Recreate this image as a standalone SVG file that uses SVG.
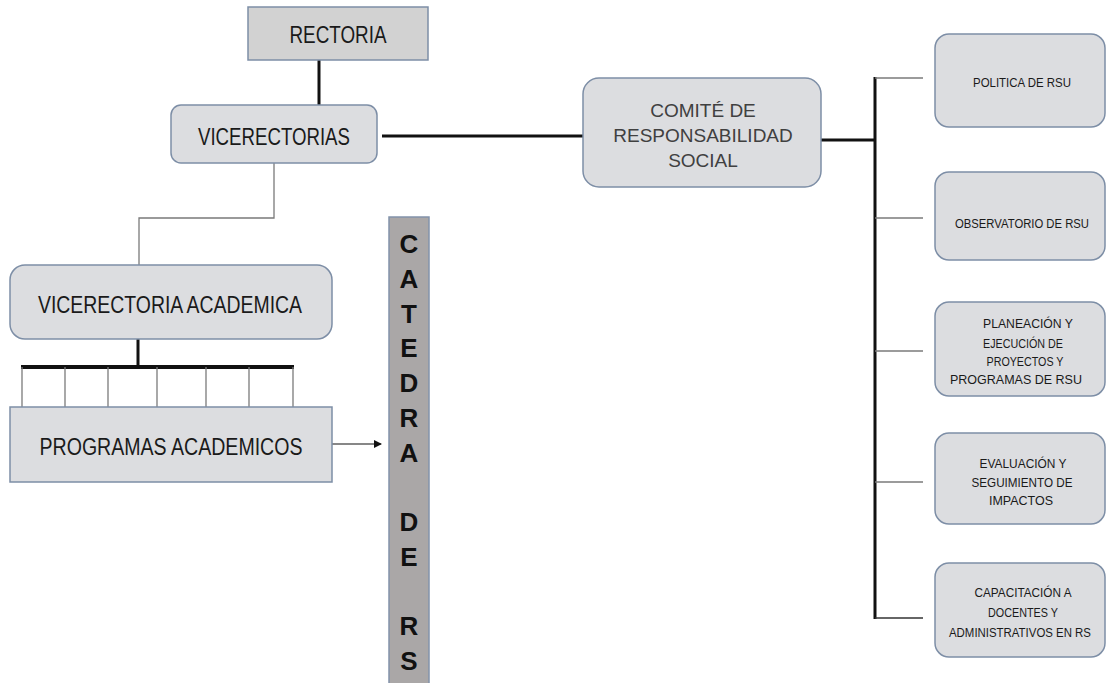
<svg xmlns="http://www.w3.org/2000/svg" width="1106" height="683" viewBox="0 0 1106 683">
<style>
.box{fill:#dcdcdc;stroke:#7d8ea6;stroke-width:1.5}
.rbox{fill:#dcdde0;stroke:#7d8ea6;stroke-width:1.5}
.cal{font-family:"Liberation Sans",Arial,sans-serif;fill:#1a1a1a;text-anchor:middle}
.big{font-size:23px}
.sm{font-size:13px}
.xs{font-size:12px}
.cat{font-family:"Liberation Sans",Arial,sans-serif;font-weight:bold;font-size:26px;fill:#111;text-anchor:middle}
.thick{stroke:#111;stroke-width:3;fill:none}
.thin{stroke:#7a7a7a;stroke-width:1.3;fill:none}
</style>
<defs>
<marker id="arr" markerWidth="8" markerHeight="8" refX="7" refY="4" orient="auto" markerUnits="userSpaceOnUse">
<path d="M0,0 L8,4 L0,8 Z" fill="#111"/>
</marker>
</defs>
<rect width="1106" height="683" fill="#ffffff"/>
<g id="connectors">
<line class="thick" x1="319" y1="60" x2="319" y2="105"/>
<line class="thick" x1="382" y1="136" x2="583" y2="136"/>
<line class="thick" x1="821" y1="140" x2="875" y2="140"/>
<line class="thick" x1="875" y1="77" x2="875" y2="619"/>
<line class="thin" x1="875" y1="78" x2="923" y2="78"/>
<line class="thin" x1="875" y1="218" x2="923" y2="218"/>
<line class="thin" x1="875" y1="351" x2="923" y2="351"/>
<line class="thin" x1="875" y1="482" x2="923" y2="482"/>
<line class="thin" x1="875" y1="618" x2="923" y2="618" style="stroke:#333"/>
<polyline class="thin" points="274,163 274,218 139,218 139,265"/>
<line class="thick" x1="138" y1="339" x2="138" y2="367"/>
<line class="thick" x1="21" y1="367" x2="294" y2="367" style="stroke-width:4"/>
<line class="thin" x1="22" y1="367" x2="22" y2="407"/>
<line class="thin" x1="65" y1="367" x2="65" y2="407"/>
<line class="thin" x1="108" y1="367" x2="108" y2="407"/>
<line class="thin" x1="157" y1="367" x2="157" y2="407"/>
<line class="thin" x1="206" y1="367" x2="206" y2="407"/>
<line class="thin" x1="249" y1="367" x2="249" y2="407"/>
<line class="thin" x1="293" y1="367" x2="293" y2="407"/>
<line x1="332" y1="444" x2="381" y2="444" stroke="#111" stroke-width="1.2" marker-end="url(#arr)"/>
</g>
<g id="rectoria">
<rect class="box" x="248" y="7" width="180" height="53" style="fill:#d2d2d2"/>
<text class="cal big" x="338" y="43" textLength="97" lengthAdjust="spacingAndGlyphs">RECTORIA</text>
</g>
<g id="vicerectorias">
<rect class="rbox" x="171" y="105" width="206" height="58" rx="10"/>
<text class="cal big" x="274" y="145" textLength="152" lengthAdjust="spacingAndGlyphs">VICERECTORIAS</text>
</g>
<g id="comite">
<rect class="rbox" x="583" y="78" width="238" height="109" rx="16"/>
<text x="703" y="117" font-family="Liberation Sans,Arial,sans-serif" font-size="19" fill="#404040" text-anchor="middle">COMITÉ  DE</text>
<text x="703" y="142" font-family="Liberation Sans,Arial,sans-serif" font-size="19" fill="#404040" text-anchor="middle">RESPONSABILIDAD</text>
<text x="703" y="167" font-family="Liberation Sans,Arial,sans-serif" font-size="19" fill="#404040" text-anchor="middle">SOCIAL</text>
</g>
<g id="vicerectoria-academica">
<rect class="rbox" x="10" y="265" width="322" height="74" rx="15"/>
<text class="cal big" x="170" y="313" textLength="264" lengthAdjust="spacingAndGlyphs">VICERECTORIA ACADEMICA</text>
</g>
<g id="programas-academicos">
<rect class="rbox" x="10" y="407" width="322" height="75"/>
<text class="cal big" x="171" y="455" textLength="263" lengthAdjust="spacingAndGlyphs">PROGRAMAS ACADEMICOS</text>
</g>
<g id="catedra">
<rect x="389" y="217" width="40" height="470" fill="#aaa7a7" stroke="#8293ab" stroke-width="1.5"/>
<text class="cat" x="409" y="253">C</text>
<text class="cat" x="409" y="288">A</text>
<text class="cat" x="409" y="323">T</text>
<text class="cat" x="409" y="357">E</text>
<text class="cat" x="409" y="392">D</text>
<text class="cat" x="409" y="427">R</text>
<text class="cat" x="409" y="462">A</text>
<text class="cat" x="409" y="531">D</text>
<text class="cat" x="409" y="566">E</text>
<text class="cat" x="409" y="635">R</text>
<text class="cat" x="409" y="670">S</text>
</g>
<g id="politica">
<rect class="rbox" x="935" y="34" width="170" height="93" rx="14"/>
<text class="cal sm" x="1022" y="87" textLength="98" lengthAdjust="spacingAndGlyphs">POLITICA DE RSU</text>
</g>
<g id="observatorio">
<rect class="rbox" x="935" y="172" width="170" height="88" rx="14"/>
<text class="cal xs" x="1022" y="228" textLength="134" lengthAdjust="spacingAndGlyphs">OBSERVATORIO DE RSU</text>
</g>
<g id="planeacion">
<rect class="rbox" x="935" y="302" width="170" height="94" rx="14"/>
<text class="cal sm" x="1028" y="328" textLength="90" lengthAdjust="spacingAndGlyphs">PLANEACIÓN Y</text>
<text class="cal sm" x="1023" y="348" textLength="80" lengthAdjust="spacingAndGlyphs">EJECUCIÓN DE</text>
<text class="cal sm" x="1025" y="366" textLength="77" lengthAdjust="spacingAndGlyphs">PROYECTOS Y</text>
<text class="cal sm" x="1016" y="384" textLength="132" lengthAdjust="spacingAndGlyphs">PROGRAMAS DE RSU</text>
</g>
<g id="evaluacion">
<rect class="rbox" x="935" y="433" width="170" height="91" rx="14"/>
<text class="cal sm" x="1023" y="468" textLength="87" lengthAdjust="spacingAndGlyphs">EVALUACIÓN Y</text>
<text class="cal sm" x="1022" y="487" textLength="101" lengthAdjust="spacingAndGlyphs">SEGUIMIENTO DE</text>
<text class="cal sm" x="1021" y="505" textLength="64" lengthAdjust="spacingAndGlyphs">IMPACTOS</text>
</g>
<g id="capacitacion">
<rect class="rbox" x="935" y="563" width="170" height="94" rx="14"/>
<text class="cal sm" x="1023" y="597" textLength="97" lengthAdjust="spacingAndGlyphs">CAPACITACIÓN A</text>
<text class="cal sm" x="1023" y="617" textLength="70" lengthAdjust="spacingAndGlyphs">DOCENTES Y</text>
<text class="cal xs" x="1020" y="637" textLength="142" lengthAdjust="spacingAndGlyphs">ADMINISTRATIVOS EN RS</text>
</g>
</svg>
